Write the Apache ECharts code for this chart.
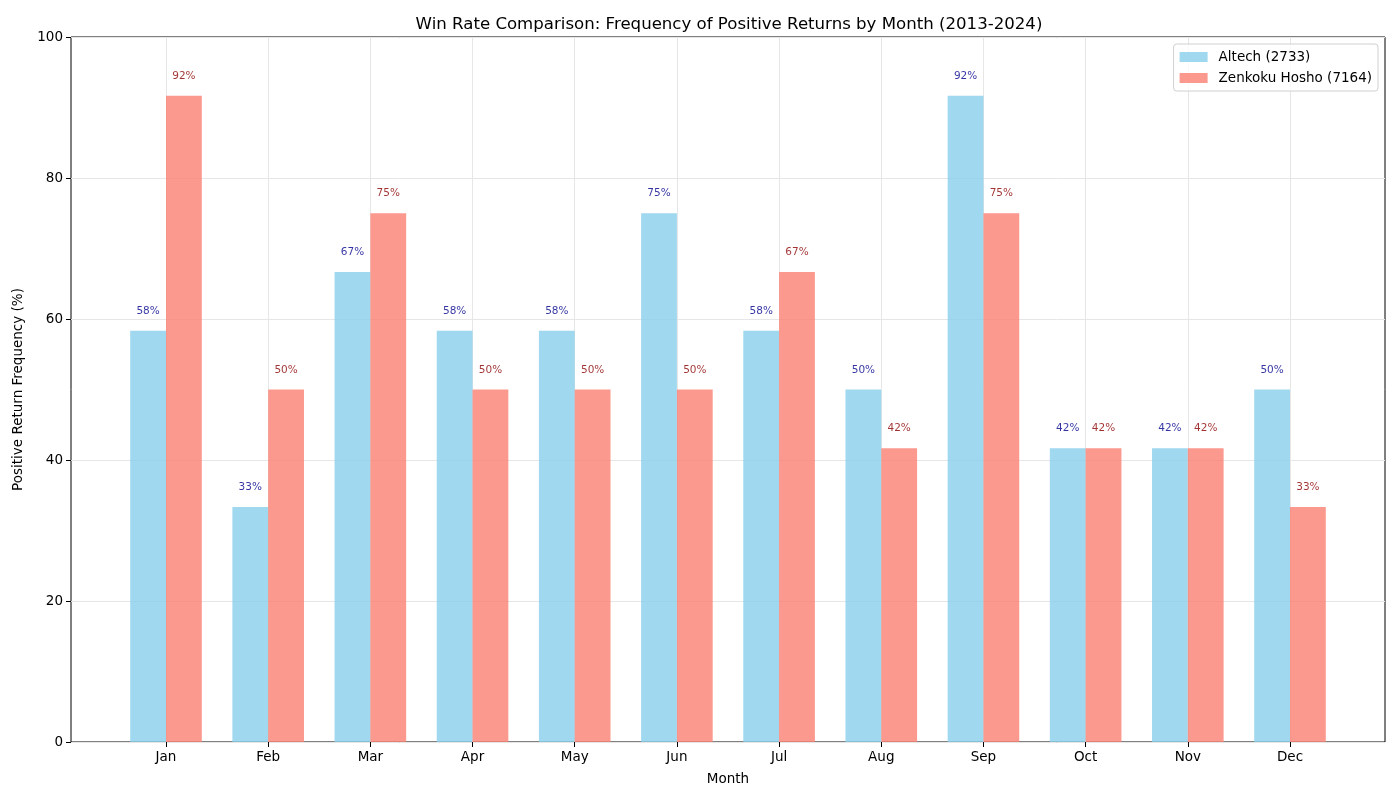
<!DOCTYPE html>
<html>
<head>
<meta charset="utf-8">
<script src="https://cdn.jsdelivr.net/npm/echarts@6/dist/echarts.min.js"></script>
<style>
html,body{margin:0;padding:0;background:#fff;}
#chart{width:1400px;height:800px;}
</style>
</head>
<body>
<div id="chart"></div>
<script>
const months = ['Jan','Feb','Mar','Apr','May','Jun','Jul','Aug','Sep','Oct','Nov','Dec'];
const altech = [58.33, 33.33, 66.67, 58.33, 58.33, 75.00, 58.33, 50.00, 91.67, 41.67, 41.67, 50.00];
const zenkoku = [91.67, 50.00, 75.00, 50.00, 50.00, 50.00, 66.67, 41.67, 75.00, 41.67, 41.67, 33.33];
const yTicks = [0, 20, 40, 60, 80, 100];
const seriesNames = ['Altech (2733)', 'Zenkoku Hosho (7164)'];

const font = 'DejaVu Sans';
const chart = echarts.init(document.getElementById('chart'));
chart.setOption({
  backgroundColor: '#fff',
  animation: false,
  textStyle: {fontFamily: font},
  title: {
    text: 'Win Rate Comparison: Frequency of Positive Returns by Month (2013-2024)',
    left: 724, top: 11, textAlign: 'center',
    textStyle: {fontFamily: font, fontSize: 16.6, fontWeight: 'normal', color: '#000'}
  },
  legend: {
    orient: 'vertical', right: 22, top: 44,
    icon: 'rect',
    itemWidth: 28, itemHeight: 10, itemGap: 7,
    padding: [6, 6, 6, 6],
    borderColor: '#d0d0d0', borderWidth: 1, borderRadius: 3,
    backgroundColor: 'rgba(255,255,255,0.8)',
    textStyle: {fontFamily: font, fontSize: 13.5, color: '#000', padding: [0, 0, 0, 6]},
    data: seriesNames
  },
  grid: [
    {left: 71, right: 15, top: 37, bottom: 58, show: true, borderColor: '#000', borderWidth: 1, backgroundColor: 'transparent'},
    {left: 166, right: 110, top: 37, bottom: 58}
  ],
  xAxis: [
    {type: 'value', gridIndex: 0, min: -0.935, max: 11.935,
     axisLine: {show: false, onZero: false}, axisTick: {show: false}, axisLabel: {show: false}, splitLine: {show: false},
     name: 'Month', nameLocation: 'middle', nameGap: 30,
     nameTextStyle: {fontFamily: font, fontSize: 13.5, color: '#000'}},
    {type: 'category', gridIndex: 1, data: months, boundaryGap: false,
     axisLine: {show: false, onZero: false},
     axisTick: {show: true, length: 5, lineStyle: {color: '#000'}},
     axisLabel: {fontFamily: font, fontSize: 13.5, color: '#000', margin: 8},
     splitLine: {show: true, lineStyle: {color: '#e6e6e6', width: 1}}}
  ],
  yAxis: [
    {type: 'value', gridIndex: 0, min: 0, max: 100, interval: 20, position: 'left',
     axisLine: {show: false, onZero: false},
     axisTick: {show: true, length: 5, lineStyle: {color: '#000'}},
     axisLabel: {fontFamily: font, fontSize: 13.5, color: '#000', margin: 8,
       formatter: v => yTicks.includes(v) ? String(v) : ''},
     splitLine: {show: true, lineStyle: {color: '#e6e6e6', width: 1}},
     name: 'Positive Return Frequency (%)', nameLocation: 'middle', nameGap: 46,
     nameTextStyle: {fontFamily: font, fontSize: 13.5, color: '#000'}},
    {type: 'value', gridIndex: 1, min: 0, max: 100, show: false, splitLine: {show: false}}
  ],
  series: [
    {name: seriesNames[0], type: 'bar', xAxisIndex: 1, yAxisIndex: 1,
     data: altech, barWidth: 35.8, barGap: '0%', clip: false,
     itemStyle: {color: '#87CEEB', opacity: 0.8},
     label: {show: true, position: 'top', distance: 14, fontFamily: font, fontSize: 10.5, color: '#00008B',
       formatter: p => Math.round(p.value) + '%'}},
    {name: seriesNames[1], type: 'bar', xAxisIndex: 1, yAxisIndex: 1,
     data: zenkoku, barWidth: 35.8, barGap: '0%', clip: false,
     itemStyle: {color: '#FA8072', opacity: 0.8},
     label: {show: true, position: 'top', distance: 14, fontFamily: font, fontSize: 10.5, color: '#8B0000',
       formatter: p => Math.round(p.value) + '%'}}
  ]
});
</script>
</body>
</html>
